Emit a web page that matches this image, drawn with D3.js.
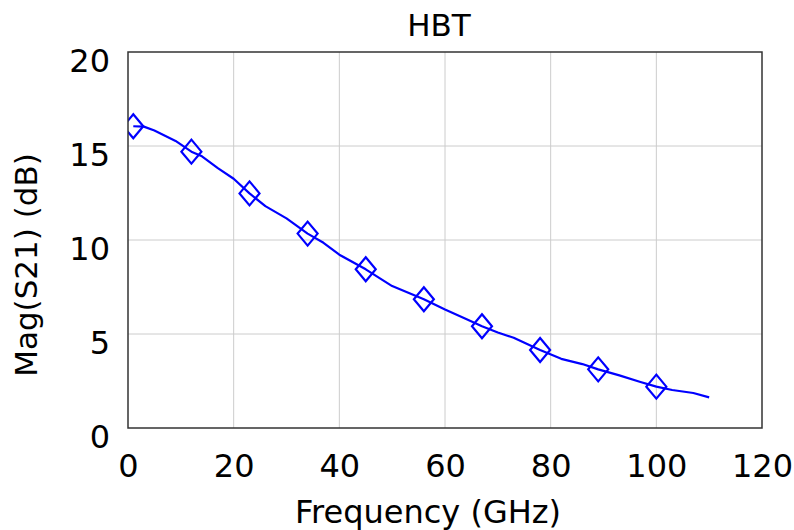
<!DOCTYPE html>
<html>
<head>
<meta charset="utf-8">
<title>HBT</title>
<script src="https://d3js.org/d3.v7.min.js"></script>
<style>
  body { margin: 0; background: #fff; }
  text { font-family: "DejaVu Sans", Verdana, sans-serif; fill: #000; }
  .tick line { display: none; }
  .domain { display: none; }
  .grid line { stroke: #cccccc; stroke-width: 1; }
</style>
</head>
<body>
<svg id="chart" width="794" height="530"></svg>
<script>
// trace data
var freq = [1, 3, 5, 7, 9, 12, 14, 17, 20, 23, 26, 30, 34, 37, 40, 45, 50, 56, 60, 64, 67, 70, 73, 78, 82, 86, 89, 93, 97, 100, 103, 107, 110];
var mag  = [16.05, 16.03, 15.82, 15.55, 15.27, 14.70, 14.45, 13.82, 13.26, 12.48, 11.8, 11.15, 10.34, 9.85, 9.22, 8.44, 7.55, 6.85, 6.3, 5.8, 5.41, 5.08, 4.8, 4.15, 3.68, 3.4, 3.12, 2.8, 2.45, 2.20, 2.02, 1.86, 1.63];

// marker positions
var markerFreq = [1, 12, 23, 34, 45, 56, 67, 78, 89, 100];
var markerMag  = [16.05, 14.70, 12.48, 10.34, 8.44, 6.85, 5.41, 4.15, 3.12, 2.20];

var xTicks = [0, 20, 40, 60, 80, 100, 120];
var yTicks = [0, 5, 10, 15, 20];

var margin = {left: 128, right: 32, top: 52, bottom: 102};
var width = 794 - margin.left - margin.right;
var height = 530 - margin.top - margin.bottom;

var svg = d3.select('#chart');
var g = svg.append('g').attr('transform', 'translate(' + margin.left + ',' + margin.top + ')');

var x = d3.scaleLinear().domain([0, 120]).range([0, width]);
var y = d3.scaleLinear().domain([0, 20]).range([height, 0]);

g.append('clipPath').attr('id', 'clip')
  .append('rect').attr('width', width).attr('height', height);

// grid
g.append('g').attr('class', 'grid')
  .selectAll('line.v').data(xTicks.slice(1, -1)).enter().append('line')
    .attr('x1', d => x(d)).attr('x2', d => x(d))
    .attr('y1', 0).attr('y2', height);
g.append('g').attr('class', 'grid')
  .selectAll('line.h').data(yTicks.slice(1, -1)).enter().append('line')
    .attr('x1', 0).attr('x2', width)
    .attr('y1', d => y(d)).attr('y2', d => y(d));

// axes (labels only)
g.append('g')
  .attr('transform', 'translate(0,' + height + ')')
  .call(d3.axisBottom(x).tickValues(xTicks).tickSize(0).tickPadding(26))
  .call(a => a.selectAll('text').style('font-size', '32px').attr('font-family', null));
g.append('g')
  .call(d3.axisLeft(y).tickValues(yTicks).tickSize(0).tickPadding(18))
  .call(a => a.selectAll('text').style('font-size', '32px').attr('font-family', null).attr('dy', '0.62em'));

// trace
var line = d3.line().x((d, i) => x(freq[i])).y(d => y(d));
var plot = g.append('g').attr('clip-path', 'url(#clip)');
plot.append('path')
  .datum(mag)
  .attr('d', line)
  .attr('fill', 'none')
  .attr('stroke', '#0000ff')
  .attr('stroke-width', 2.2)
  .attr('stroke-linejoin', 'round');

plot.selectAll('path.mk').data(markerMag).enter().append('path')
  .attr('class', 'mk')
  .attr('d', 'M0,-12L10,0L0,12L-10,0Z')
  .attr('transform', (d, i) => 'translate(' + x(markerFreq[i]) + ',' + y(d) + ')')
  .attr('fill', 'none')
  .attr('stroke', '#0000ff')
  .attr('stroke-width', 2.2);

// frame
g.append('rect')
  .attr('width', width).attr('height', height)
  .attr('fill', 'none').attr('stroke', '#333').attr('stroke-width', 1.5);

// titles
svg.append('text')
  .attr('x', margin.left + width / 2 - 6).attr('y', 36)
  .attr('text-anchor', 'middle').style('font-size', '31px')
  .text('HBT');
svg.append('text')
  .attr('x', margin.left + width / 2 - 17).attr('y', 523)
  .attr('text-anchor', 'middle').style('font-size', '32px')
  .text('Frequency (GHz)');
svg.append('text')
  .attr('transform', 'translate(37,265) rotate(-90)')
  .attr('text-anchor', 'middle').style('font-size', '31px')
  .text('Mag(S21) (dB)');
</script>
</body>
</html>
